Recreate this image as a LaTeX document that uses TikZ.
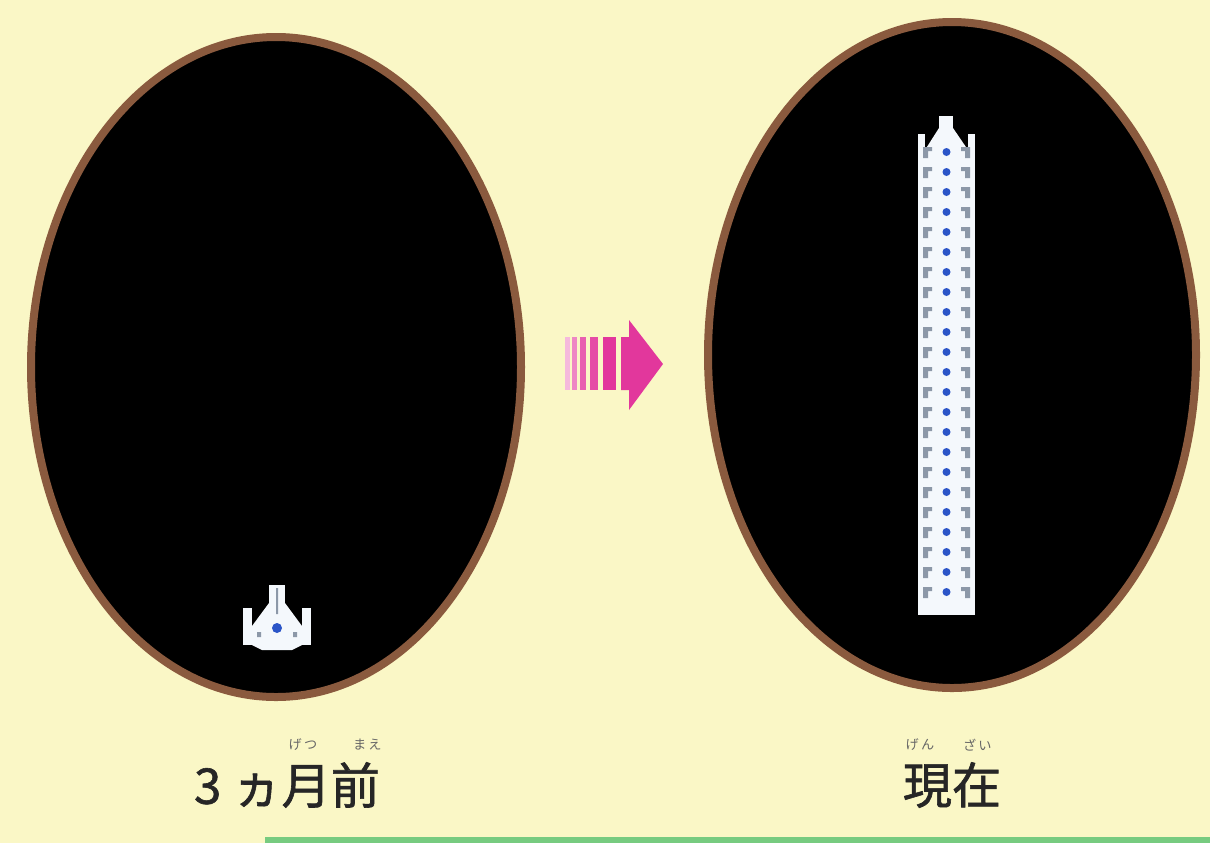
\documentclass[tikz,border=0pt]{standalone}
\usepackage{fontspec}
\usepackage{tikz}
\usetikzlibrary{positioning}
\newfontfamily\jpfont[FakeBold=1.2]{Noto Sans CJK JP}
\newfontfamily\rubyfont{Noto Sans CJK JP}
\definecolor{Paper}{HTML}{FAF7C6}
\definecolor{Rim}{HTML}{8A5A3E}
\definecolor{Pink}{HTML}{E2379C}
\definecolor{Hull}{HTML}{F4F8FC}
\definecolor{Cockpit}{HTML}{2B55C8}
\definecolor{Seam}{HTML}{8C98A8}
\definecolor{Stripe}{HTML}{3CB54A}

\tikzset{
  screen/.style={fill=black,draw=Rim,line width=0.16cm},
  caption/.style={font=\jpfont\fontsize{28}{30}\selectfont,text=black!85,inner sep=0pt},
  ruby/.style={font=\rubyfont\fontsize{7.5}{8}\selectfont,text=black!60,inner sep=0pt},
  % one fighter, drawn around its cockpit
  fighter/.pic={
    \fill[Hull] (-8,-43) rectangle (8,-10);
    \fill[Hull] (-34,-20) rectangle (-25,17);
    \fill[Hull] (25,-20) rectangle (34,17);
    \fill[Hull] (-25,17) -- (-25,-2) -- (-8,-25) -- (8,-25) -- (25,-2) -- (25,17)
      -- (15,22) -- (-15,22) -- cycle;
    \fill[Seam] (-20,4) rectangle (-16,9) (16,4) rectangle (20,9)
      (-1,-40) rectangle (1,-14);
    \fill[Cockpit] (0,0) circle (5);
  }
}

\begin{document}
\begin{tikzpicture}[x=0.02cm,y=-0.02cm]
  \useasboundingbox (0,0) rectangle (1210,843);
  \fill[Paper] (0,0) rectangle (1210,843);
  \fill[Stripe!70] (265,837) rectangle (1210,843);

  % the two screens
  \draw[screen] (276,367) ellipse [x radius=245,y radius=330];
  \draw[screen] (952,355) ellipse [x radius=244,y radius=333];

  % a single fighter before
  \pic at (277,628) {fighter};

  % the stacked column now
  \fill[Hull] (939,116) rectangle (953,140);
  \fill[Hull] (918,134) rectangle (925,150);
  \fill[Hull] (968,134) rectangle (975,150);
  \fill[Hull] (925,150) -- (939,128) -- (953,128) -- (968,150) -- cycle;
  \fill[Hull] (918,148) rectangle (975,615);
  \foreach \k in {0,...,22} {
    \fill[Cockpit] (946.5,152+20*\k) circle (4);
    \fill[Seam] (923,147+20*\k) rectangle (928,158+20*\k)
                (923,147+20*\k) rectangle (932,151+20*\k);
    \fill[Seam] (965,147+20*\k) rectangle (970,158+20*\k)
                (961,147+20*\k) rectangle (970,151+20*\k);
  }

  % striped arrow between the screens
  \foreach \a/\b/\c in {565/570/35,572/577/60,580/586/80,590/598/90,603/616/100}
    \fill[Pink!\c] (\a,337) rectangle (\b,390);
  \fill[Pink] (621,337) -- (629,337) -- (629,320) -- (663,364) -- (629,410)
    -- (629,390) -- (621,390) -- cycle;

  % captions and their readings
  \node[caption] (before) at (287,785) {3 ヵ月前};
  \node[caption] (now) at (952,785) {現在};
  \node[ruby] (tsuki) at (303,745) {げ\,つ};
  \node[ruby,right=20pt of tsuki] (mae) {ま\,え};
  \node[ruby] (gen) at (920,745) {げ\,ん};
  \node[ruby,right=16pt of gen] (zai) {ざ\,い};
\end{tikzpicture}
\end{document}
